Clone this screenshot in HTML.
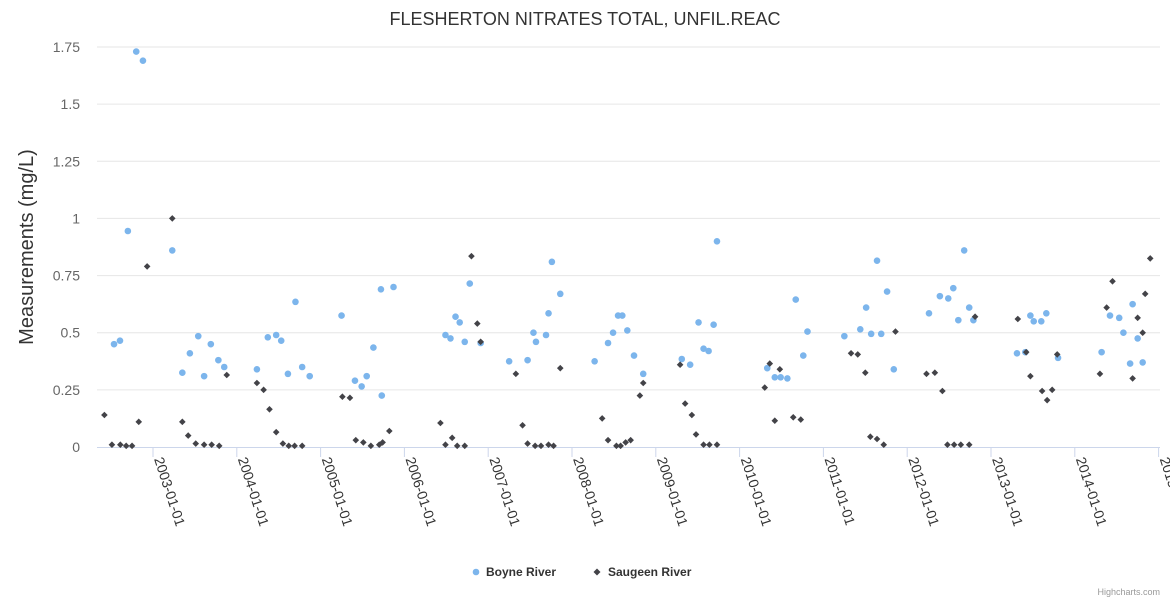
<!DOCTYPE html>
<html><head><meta charset="utf-8"><style>
body{margin:0;background:#fff;}
svg{display:block;font-family:"Liberation Sans",sans-serif;}
</style></head><body>
<svg id="chart" width="1170" height="600" xmlns="http://www.w3.org/2000/svg">
<text x="585" y="25" text-anchor="middle" font-size="18" fill="#333">FLESHERTON NITRATES TOTAL, UNFIL.REAC</text>
<text transform="translate(33,247) rotate(-90)" text-anchor="middle" font-size="20" fill="#333">Measurements (mg/L)</text>
<g id="grid"></g><g id="xaxis"></g><g id="marks"></g>
<g>
<g><circle cx="476" cy="572" r="3.3" fill="#7cb5ec"/><text x="486" y="576" font-size="12" font-weight="bold" fill="#333">Boyne River</text></g>
<g><path d="M597,568.5 L600.5,572 L597,575.5 L593.5,572Z" fill="#434348"/><text x="608" y="576" font-size="12" font-weight="bold" fill="#333">Saugeen River</text></g>
</g>
<text x="1160" y="595" text-anchor="end" font-size="9" fill="#999">Highcharts.com</text>
</svg>
<script>
const yTicks=[0,0.25,0.5,0.75,1,1.25,1.5,1.75];
const yTickLabels=["0","0.25","0.5","0.75","1","1.25","1.5","1.75"];
const xTickYears=[2003,2004,2005,2006,2007,2008,2009,2010,2011,2012,2013,2014,2015];
const boyneDates=[2002.535,2002.606,2002.70,2002.80,2002.88,2003.23,2003.35,2003.44,2003.54,2003.61,2003.69,2003.78,2003.85,2004.24,2004.37,2004.47,2004.53,2004.61,2004.70,2004.78,2004.87,2005.25,2005.41,2005.49,2005.55,2005.63,2005.73,2005.72,2005.87,2006.49,2006.55,2006.61,2006.66,2006.72,2006.78,2006.91,2007.25,2007.47,2007.54,2007.57,2007.69,2007.72,2007.76,2007.86,2008.27,2008.43,2008.49,2008.55,2008.60,2008.66,2008.74,2008.85,2009.31,2009.41,2009.51,2009.57,2009.63,2009.69,2009.73,2010.33,2010.42,2010.49,2010.57,2010.67,2010.76,2010.81,2011.25,2011.44,2011.51,2011.57,2011.64,2011.69,2011.76,2011.84,2012.26,2012.39,2012.49,2012.55,2012.61,2012.68,2012.74,2012.79,2013.31,2013.41,2013.47,2013.51,2013.60,2013.66,2013.80,2014.32,2014.42,2014.53,2014.58,2014.66,2014.69,2014.75,2014.81];
const boyneValues=[0.45,0.465,0.945,1.73,1.69,0.86,0.325,0.41,0.485,0.31,0.45,0.38,0.35,0.34,0.48,0.49,0.465,0.32,0.635,0.35,0.31,0.575,0.29,0.265,0.31,0.435,0.225,0.69,0.70,0.49,0.475,0.57,0.545,0.46,0.715,0.455,0.375,0.38,0.5,0.46,0.49,0.585,0.81,0.67,0.375,0.455,0.5,0.575,0.575,0.51,0.40,0.32,0.385,0.36,0.545,0.43,0.42,0.535,0.90,0.345,0.305,0.305,0.30,0.645,0.40,0.505,0.485,0.515,0.61,0.495,0.815,0.495,0.68,0.34,0.585,0.66,0.65,0.695,0.555,0.86,0.61,0.555,0.41,0.415,0.575,0.55,0.55,0.585,0.39,0.415,0.575,0.565,0.50,0.365,0.625,0.475,0.37];
const saugeenDates=[2002.42,2002.51,2002.61,2002.68,2002.75,2002.83,2002.93,2003.23,2003.35,2003.42,2003.51,2003.61,2003.70,2003.79,2003.88,2004.24,2004.32,2004.39,2004.47,2004.55,2004.62,2004.69,2004.78,2005.26,2005.35,2005.42,2005.51,2005.60,2005.70,2005.74,2005.82,2006.43,2006.49,2006.57,2006.63,2006.72,2006.80,2006.87,2006.91,2007.33,2007.41,2007.47,2007.56,2007.63,2007.72,2007.78,2007.86,2008.36,2008.43,2008.53,2008.58,2008.64,2008.70,2008.81,2008.85,2009.29,2009.35,2009.43,2009.48,2009.57,2009.64,2009.73,2010.30,2010.36,2010.42,2010.48,2010.64,2010.73,2011.33,2011.41,2011.50,2011.56,2011.64,2011.72,2011.86,2012.23,2012.33,2012.42,2012.48,2012.56,2012.64,2012.74,2012.81,2013.32,2013.42,2013.47,2013.61,2013.67,2013.73,2013.79,2014.30,2014.38,2014.45,2014.69,2014.75,2014.81,2014.84,2014.90];
const saugeenValues=[0.14,0.01,0.01,0.005,0.005,0.11,0.79,1.0,0.11,0.05,0.015,0.01,0.01,0.005,0.315,0.28,0.25,0.165,0.065,0.015,0.005,0.005,0.005,0.22,0.215,0.03,0.02,0.005,0.01,0.02,0.07,0.105,0.01,0.04,0.005,0.005,0.835,0.54,0.46,0.32,0.095,0.015,0.005,0.005,0.01,0.005,0.345,0.125,0.03,0.005,0.005,0.02,0.03,0.225,0.28,0.36,0.19,0.14,0.055,0.01,0.01,0.01,0.26,0.365,0.115,0.34,0.13,0.12,0.41,0.405,0.325,0.045,0.035,0.01,0.505,0.32,0.325,0.245,0.01,0.01,0.01,0.01,0.57,0.56,0.415,0.31,0.245,0.205,0.25,0.405,0.32,0.61,0.725,0.30,0.565,0.50,0.67,0.825];

const NS="http://www.w3.org/2000/svg";
const L=97,R=1160,T=47,B=447;
const xMin=2003-56/83.8,xMax=2003+1007/83.8;
const xs=v=>L+(v-xMin)/(xMax-xMin)*(R-L);
const ys=v=>B-v/1.75*(B-T);
function mk(tag,attrs,parent){const e=document.createElementNS(NS,tag);for(const k in attrs)e.setAttribute(k,attrs[k]);parent.appendChild(e);return e;}
const grid=document.getElementById('grid'),xa=document.getElementById('xaxis'),marks=document.getElementById('marks');
yTicks.forEach((t,i)=>{
  if(t>0){const g=mk('line',{x1:L,x2:R,y1:ys(t),y2:ys(t),stroke:'#e6e6e6','stroke-width':1},grid);
  
  }
  const tx=mk('text',{x:80,y:ys(t)+5,'text-anchor':'end','font-size':14,fill:'#666'},grid);
  tx.textContent=yTickLabels[i];
  
  
});
const ax=mk('line',{x1:L,x2:R,y1:B+0.5,y2:B+0.5,stroke:'#ccd6eb','stroke-width':1},xa);


xTickYears.forEach(yr=>{
  const x=xs(yr);
  const tk=mk('line',{x1:x,x2:x,y1:B,y2:B+10,stroke:'#ccd6eb','stroke-width':1},xa);
  
  
  const tx=mk('text',{transform:`translate(${x+1},${B+12}) rotate(72)`,'font-size':14,fill:'#333'},xa);
  tx.textContent=yr+'-01-01';
  
  
});
boyneDates.forEach((d,i)=>{
  const c=mk('circle',{cx:xs(d),cy:ys(boyneValues[i]),r:3.3,fill:'#7cb5ec'},marks);
  
  
});
saugeenDates.forEach((d,i)=>{
  const x=xs(d),y=ys(saugeenValues[i]);
  const p=mk('path',{d:`M${x},${y-3.3} L${x+3.3},${y} L${x},${y+3.3} L${x-3.3},${y}Z`,fill:'#434348'},marks);
  
  
});
</script>
</body></html>
